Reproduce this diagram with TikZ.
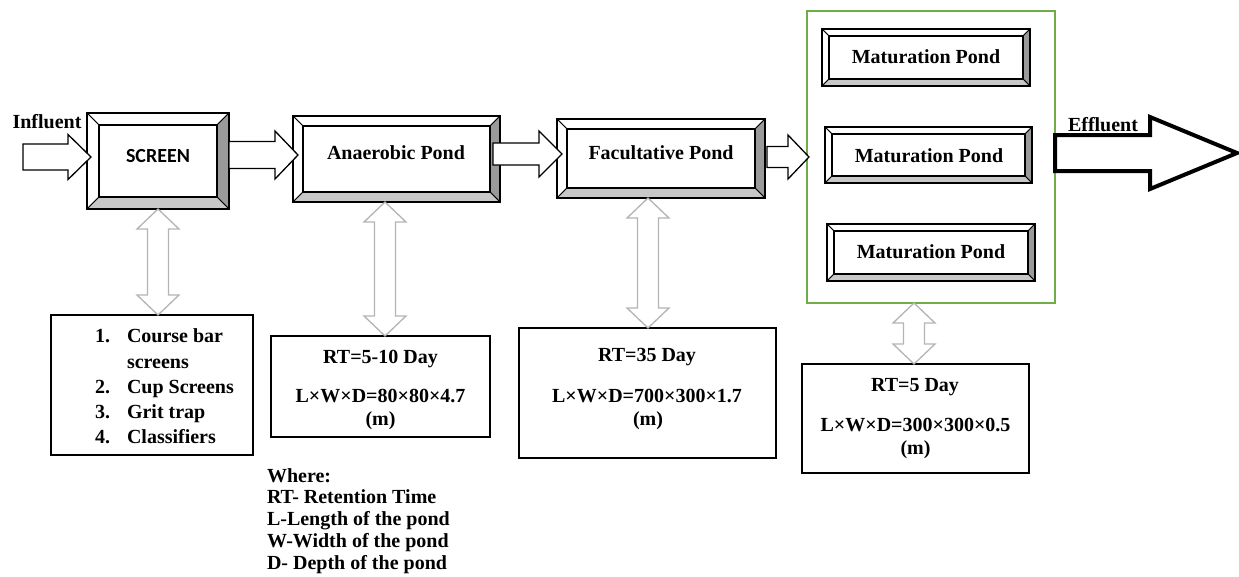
\documentclass[tikz,border=0pt]{standalone}
\usepackage{fontspec}
\setmainfont{Liberation Serif}
\newfontfamily\calibri{Carlito}
\usetikzlibrary{calc}
\definecolor{bevdark}{HTML}{9A9A9A}
\definecolor{bevlight}{HTML}{C8C8C8}
\definecolor{grpgreen}{HTML}{70AD47}
\definecolor{arrgray}{HTML}{B4B4B4}
\tikzset{
  txt/.style={font=\fontsize{20}{24}\selectfont\bfseries, inner sep=0pt, outer sep=0pt, anchor=base},
  txtl/.style={txt, anchor=base west},
  bevbox/.style={inner sep=0pt, outer sep=0pt},
  infobox/.style={draw=black, line width=1.5pt, inner sep=0pt, outer sep=0pt, fill=white},
  grpbox/.style={draw=grpgreen, line width=1.5pt, inner sep=0pt, outer sep=0pt},
  facet/.style={draw=black, line width=0.8pt},
  blockarr/.style={draw=black, fill=white, line width=1.3pt, line join=miter},
  bigarr/.style={draw=black, fill=white, line width=4pt, line join=miter},
  darrow/.style={draw=arrgray, fill=white, line width=1.3pt, line join=miter},
}
\newcommand\bevelit[2]{%
  \filldraw[facet, fill=white] (#1.north west) -- (#1.north east) -- ($(#1.north east)+(-#2pt,-#2pt)$) -- ($(#1.north west)+(#2pt,-#2pt)$) -- cycle;
  \filldraw[facet, fill=white] (#1.north west) -- ($(#1.north west)+(#2pt,-#2pt)$) -- ($(#1.south west)+(#2pt,#2pt)$) -- (#1.south west) -- cycle;
  \filldraw[facet, fill=bevdark] (#1.north east) -- (#1.south east) -- ($(#1.south east)+(-#2pt,#2pt)$) -- ($(#1.north east)+(-#2pt,-#2pt)$) -- cycle;
  \filldraw[facet, fill=bevlight] (#1.south west) -- (#1.south east) -- ($(#1.south east)+(-#2pt,#2pt)$) -- ($(#1.south west)+(#2pt,#2pt)$) -- cycle;
  \draw[line width=1.6pt] ($(#1.north west)+(#2pt,-#2pt)$) rectangle ($(#1.south east)+(-#2pt,#2pt)$);
  \draw[line width=2pt] (#1.north west) rectangle (#1.south east);
}
% #1 style, #2 start, #3 tip, #4 shaft half, #5 head half, #6 head length
\newcommand\rarrow[6]{%
  \draw[#1] let \p1=(#2), \p2=(#3) in
    (\x1,{\y1+#4pt}) -- ({\x2-#6pt},{\y1+#4pt}) -- ({\x2-#6pt},{\y1+#5pt}) -- (\x2,\y1)
    -- ({\x2-#6pt},{\y1-#5pt}) -- ({\x2-#6pt},{\y1-#4pt}) -- (\x1,{\y1-#4pt}) -- cycle;}
\newcommand\vdarrow[2]{%
  \draw[darrow] let \p1=(#1), \p2=(#2) in
    (\x1,\y1) -- ({\x1+21pt},{\y1-20pt}) -- ({\x1+10.5pt},{\y1-20pt}) -- ({\x1+10.5pt},{\y2+20pt})
    -- ({\x1+21pt},{\y2+20pt}) -- (\x1,\y2) -- ({\x1-21pt},{\y2+20pt}) -- ({\x1-10.5pt},{\y2+20pt})
    -- ({\x1-10.5pt},{\y1-20pt}) -- ({\x1-21pt},{\y1-20pt}) -- cycle;}
\begin{document}
\begin{tikzpicture}[x=1pt,y=-1pt]
\useasboundingbox[fill=white] (0,0) rectangle (1239,576);

% group box
\node[grpbox, minimum width=248pt, minimum height=292pt] (green) at (931,157) {};

% bevel boxes
\node[bevbox, minimum width=142pt, minimum height=96pt] (screen) at (158,161) {};
\bevelit{screen}{12}
\node[bevbox, minimum width=207pt, minimum height=86pt] (anaer) at (396.5,159) {};
\bevelit{anaer}{10}
\node[bevbox, minimum width=208pt, minimum height=79pt] (fac) at (661,158.5) {};
\bevelit{fac}{10}
\node[bevbox, minimum width=208pt, minimum height=57pt] (mp1) at (926,57.5) {};
\bevelit{mp1}{7}
\node[bevbox, minimum width=207pt, minimum height=56pt] (mp2) at (928.5,155) {};
\bevelit{mp2}{7}
\node[bevbox, minimum width=208pt, minimum height=57pt] (mp3) at (931,252.5) {};
\bevelit{mp3}{7}

\node[txt, font=\fontsize{20}{24}\selectfont\calibri\bfseries] (screen-t) at (158,162) {SCREEN};
\node[txt] (anaer-t) at (396,159) {Anaerobic Pond};
\node[txt] (fac-t) at (661,159) {Facultative Pond};
\node[txt] (mp1-t) at (926,63) {Maturation Pond};
\node[txt] (mp2-t) at (929,162) {Maturation Pond};
\node[txt] (mp3-t) at (931,258) {Maturation Pond};

% info boxes
\node[infobox, minimum width=202pt, minimum height=140pt] (list) at (152,385) {};
\node[infobox, minimum width=219pt, minimum height=101pt] (ainfo) at (380.5,386.5) {};
\node[infobox, minimum width=257pt, minimum height=130pt] (finfo) at (647.5,393) {};
\node[infobox, minimum width=227pt, minimum height=109pt] (minfo) at (915.5,418.5) {};

\node[txtl] (l1n) at (95,342) {1.};
\node[txtl] (l1t) at (127,342) {Course bar};
\node[txtl] (l1u) at (127,368) {screens};
\node[txtl] (l2n) at (95,393) {2.};
\node[txtl] (l2t) at (127,393) {Cup Screens};
\node[txtl] (l3n) at (95,418) {3.};
\node[txtl] (l3t) at (127,418) {Grit trap};
\node[txtl] (l4n) at (95,443) {4.};
\node[txtl] (l4t) at (127,443) {Classifiers};

\node[txt] (a1) at (380.5,363) {RT=5-10 Day};
\node[txt] (a2) at (380.5,402) {L×W×D=80×80×4.7};
\node[txt] (a3) at (380.5,425) {(m)};

\node[txt] (f1) at (647,361) {RT=35 Day};
\node[txt] (f2) at (647,402) {L×W×D=700×300×1.7};
\node[txt] (f3) at (648,425) {(m)};

\node[txt] (m1) at (915,391) {RT=5 Day};
\node[txt] (m2) at (915.5,431) {L×W×D=300×300×0.5};
\node[txt] (m3) at (915.5,454) {(m)};

\node[txtl] (w1) at (267,482) {Where:};
\node[txtl] (w2) at (267,503) {RT- Retention Time};
\node[txtl] (w3) at (267,525) {L-Length of the pond};
\node[txtl] (w4) at (267,547) {W-Width of the pond};
\node[txtl] (w5) at (267,569) {D- Depth of the pond};

\node[txt] (influent) at (47,128) {Influent};
\node[txt] (effluent) at (1103,131) {Effluent};

% horizontal block arrows
\coordinate (inS) at (23,157);
\rarrow{blockarr}{inS}{$(screen.west |- inS)+(4pt,0)$}{13}{22.5}{23}
\rarrow{blockarr}{screen.east |- 0,155}{$(anaer.west |- 0,155)+(5pt,0)$}{13.5}{24}{23}
\rarrow{blockarr}{$(anaer.east |- 0,154)+(-7pt,0)$}{$(fac.west |- 0,154)+(5pt,0)$}{11}{23}{23}
\rarrow{blockarr}{$(fac.east |- 0,157)+(2pt,0)$}{$(green.west |- 0,157)+(2pt,0)$}{10.5}{22}{21}
\coordinate (effT) at (1237,153);
\rarrow{bigarr}{green.east |- effT}{effT}{18}{36}{87}

% vertical double arrows
\vdarrow{screen.south}{list.north -| screen.south}
\vdarrow{anaer.south -| 385,0}{ainfo.north -| 385,0}
\vdarrow{fac.south -| 648,0}{finfo.north -| 648,0}
\vdarrow{green.south -| 914,0}{minfo.north -| 914,0}
\end{tikzpicture}
\end{document}
